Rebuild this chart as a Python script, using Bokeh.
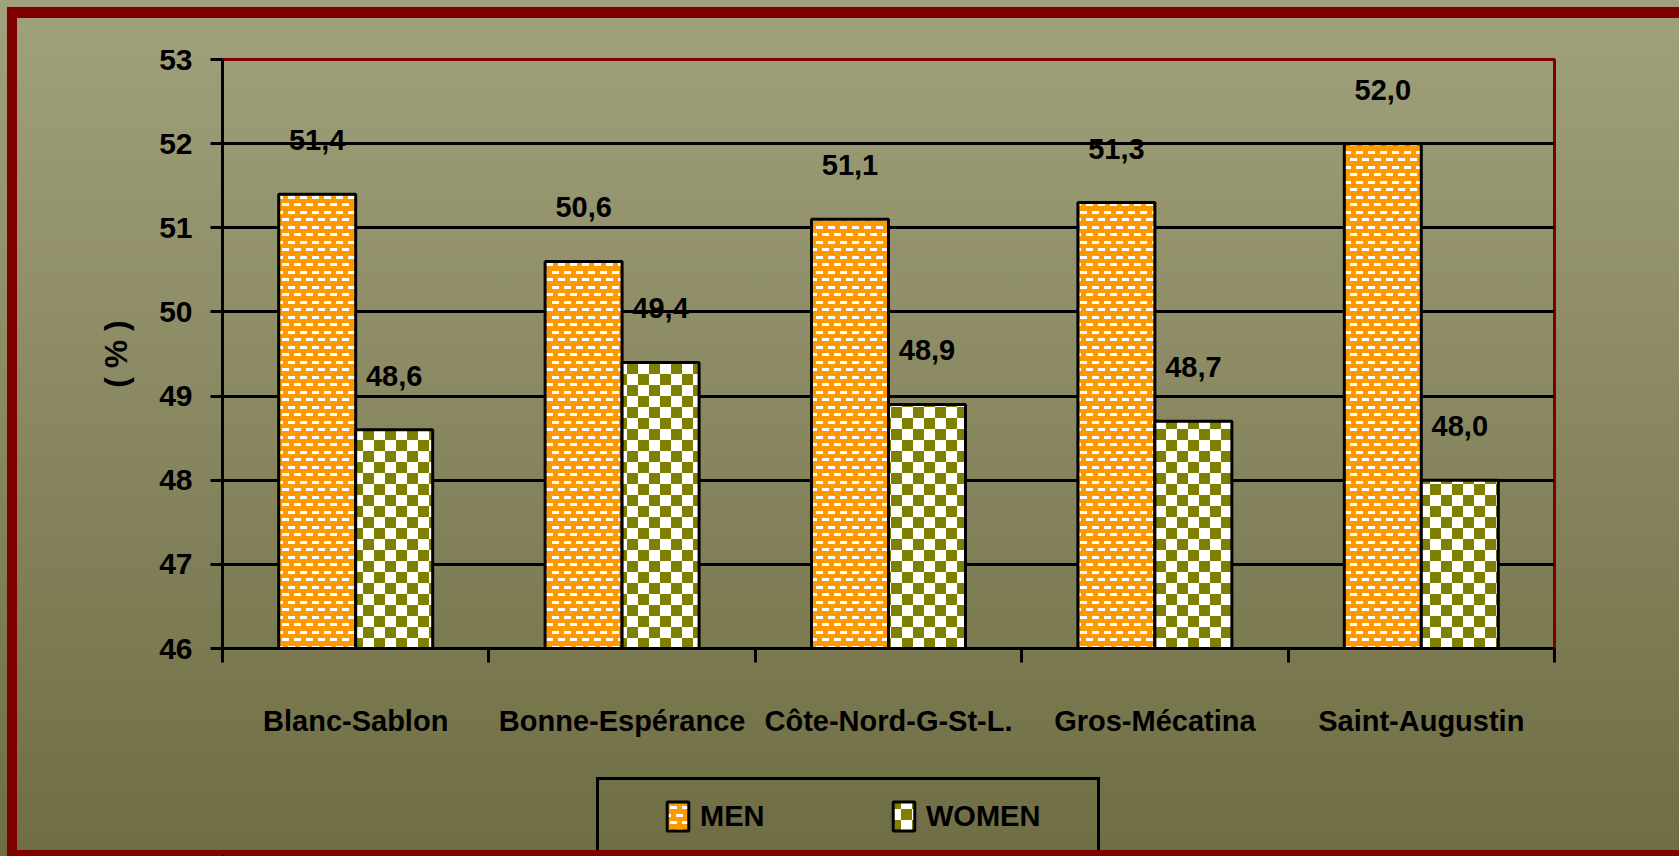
import base64
import struct
import zlib

from bokeh.core.properties import value
from bokeh.embed import file_html
from bokeh.layouts import column
from bokeh.models import (ColumnDataSource, FixedTicker, ImageURLTexture,
                          LabelSet, Legend, LegendItem, Range1d)
from bokeh.plotting import figure
from bokeh.resources import INLINE

# ---------------- data ----------------
categories = ["Blanc-Sablon", "Bonne-Espérance", "Côte-Nord-G-St-L.", "Gros-Mécatina", "Saint-Augustin"]
men = [51.4, 50.6, 51.1, 51.3, 52.0]
women = [48.6, 49.4, 48.9, 48.7, 48.0]
series_names = ["MEN", "WOMEN"]
y_ticks = [46, 47, 48, 49, 50, 51, 52, 53]
y_title = "( % )"

# ---------------- style ----------------
FONT = "Liberation Sans"
ORANGE = (255, 153, 0)
OLIVE = (128, 128, 0)
WHITE = (255, 255, 255)
DARKRED = "#800000"
W, H = 1679, 856
H_MAIN = 760                                   # chart part; the legend strip fills the rest
FR_L, FR_T, FR_R, FR_B = 222, 59, 1554, 648   # frame edges in canvas pixels


def png_data_url(pixels):
    h = len(pixels)
    w = len(pixels[0])
    raw = b"".join(b"\x00" + bytes(c for px in row for c in (px + (255,))) for row in pixels)

    def chunk(tag, data):
        return struct.pack(">I", len(data)) + tag + data + struct.pack(">I", zlib.crc32(tag + data) & 0xFFFFFFFF)

    ihdr = struct.pack(">IIBBBBB", w, h, 8, 6, 0, 0, 0)
    png = b"\x89PNG\r\n\x1a\n" + chunk(b"IHDR", ihdr) + chunk(b"IDAT", zlib.compress(raw)) + chunk(b"IEND", b"")
    return "data:image/png;base64," + base64.b64encode(png).decode()


# brick-like dash texture (orange) and checker texture (olive)
men_tile = []
for yy in range(15):
    row = []
    for xx in range(12):
        c = ORANGE
        if 1 <= yy <= 3 and xx < 7:
            c = WHITE
        if 8 <= yy <= 10 and (xx >= 6 or xx == 0):
            c = WHITE
        row.append(c)
    men_tile.append(row)

women_tile = []
for yy in range(22):
    row = []
    for xx in range(22):
        row.append(OLIVE if ((xx // 11) + (yy // 11)) % 2 == 0 else WHITE)
    women_tile.append(row)

men_style = dict(fill_color="#FF9900", line_color="black", line_width=3,
                 hatch_pattern=value("men_tex"),
                 hatch_extra={"men_tex": ImageURLTexture(url=png_data_url(men_tile), repetition="repeat")})
women_style = dict(fill_color="#808000", line_color="black", line_width=3,
                   hatch_pattern=value("women_tex"),
                   hatch_extra={"women_tex": ImageURLTexture(url=png_data_url(women_tile), repetition="repeat")})

positions = list(range(len(categories)))
BW = 0.289
src = ColumnDataSource(dict(
    xm=[p_ - BW / 2 for p_ in positions],
    xw=[p_ + BW / 2 for p_ in positions],
    men=men,
    women=women,
    men_txt=[f"{v:.1f}".replace(".", ",") for v in men],
    women_txt=[f"{v:.1f}".replace(".", ",") for v in women],
))

p = figure(width=W, height=H_MAIN,
           x_range=Range1d(-0.5, len(categories) - 0.5),
           y_range=Range1d(y_ticks[0], y_ticks[-1]),
           output_backend="svg", toolbar_location=None,
           min_border_left=FR_L, min_border_right=W - FR_R,
           min_border_top=FR_T, min_border_bottom=H_MAIN - FR_B)
p.background_fill_color = None
p.border_fill_color = None
p.outline_line_color = DARKRED
p.outline_line_width = 3

# grid
p.xgrid.grid_line_color = None
p.ygrid.ticker = FixedTicker(ticks=y_ticks[:-1])
p.ygrid.grid_line_color = "black"
p.ygrid.grid_line_width = 3

# y axis
p.yaxis.ticker = FixedTicker(ticks=y_ticks)
p.yaxis.axis_line_color = "black"
p.yaxis.axis_line_width = 3
p.yaxis.major_tick_line_width = 3
p.yaxis.major_tick_out = 12
p.yaxis.major_tick_in = 0
p.yaxis.minor_tick_line_color = None
p.yaxis.major_label_text_font = FONT
p.yaxis.major_label_text_font_style = "bold"
p.yaxis.major_label_text_font_size = "30px"
p.yaxis.major_label_text_color = "black"
p.yaxis.major_label_standoff = 18
p.yaxis.axis_label = y_title
p.yaxis.axis_label_text_font = FONT
p.yaxis.axis_label_text_font_style = "bold"
p.yaxis.axis_label_text_font_size = "32px"
p.yaxis.axis_label_text_color = "black"
p.yaxis.axis_label_standoff = 22

# x axis (ticks at category boundaries, labels at centres)
p.xaxis.ticker = FixedTicker(ticks=positions, minor_ticks=[i - 0.5 for i in range(len(categories) + 1)])
p.xaxis.major_label_overrides = {i: c for i, c in zip(positions, categories)}
p.xaxis.axis_line_color = "black"
p.xaxis.axis_line_width = 3
p.xaxis.major_tick_line_color = None
p.xaxis.major_tick_out = 0
p.xaxis.major_tick_in = 0
p.xaxis.minor_tick_line_color = "black"
p.xaxis.minor_tick_line_width = 3
p.xaxis.minor_tick_out = 14
p.xaxis.minor_tick_in = 0
p.xaxis.major_label_text_font = FONT
p.xaxis.major_label_text_font_style = "bold"
p.xaxis.major_label_text_font_size = "29px"
p.xaxis.major_label_text_color = "black"
p.xaxis.major_label_standoff = 42

# bars
p.vbar(x="xm", top="men", bottom=y_ticks[0], width=BW, source=src, **men_style)
p.vbar(x="xw", top="women", bottom=y_ticks[0], width=BW, source=src, **women_style)

# value labels
for xcol, ycol, tcol in (("xm", "men", "men_txt"), ("xw", "women", "women_txt")):
    p.add_layout(LabelSet(x=xcol, y=ycol, text=tcol, source=src, y_offset=54,
                          text_align="center", text_baseline="middle",
                          text_font=value(FONT), text_font_style="bold",
                          text_font_size="29px", text_color="black"))

# ---------------- legend strip (bottom of the page) ----------------
# The same series are drawn again in a strip whose ranges lie far away from the data,
# so nothing shows there; they only feed the legend.
H_LEG = H - H_MAIN
pl = figure(width=W, height=H_LEG, x_range=Range1d(1000, 1001), y_range=Range1d(1000, 1001),
            x_axis_location=None, y_axis_location=None,
            output_backend="svg", toolbar_location=None,
            min_border_left=FR_L, min_border_right=W - FR_R, min_border_top=0, min_border_bottom=0)
pl.grid.visible = False
pl.outline_line_color = None
pl.background_fill_color = None
pl.border_fill_color = None
lm = pl.vbar(x="xm", top="men", bottom=y_ticks[0], width=BW, source=src, **men_style)
lw = pl.vbar(x="xw", top="women", bottom=y_ticks[0], width=BW, source=src, **women_style)

LEG_TOP = 798 - H_MAIN      # top of the legend items inside the strip
legend = Legend(items=[LegendItem(label=series_names[0], renderers=[lm]),
                       LegendItem(label=series_names[1], renderers=[lw])],
                orientation="horizontal", location=(664 - FR_L, H_LEG - LEG_TOP - 36),
                glyph_width=27, glyph_height=36, label_height=36, label_standoff=9,
                label_width=186, spacing=4, padding=0, margin=0,
                border_line_color=None, background_fill_color=None, background_fill_alpha=0,
                label_text_font=FONT, label_text_font_style="bold",
                label_text_font_size="29px", label_text_color="black")
pl.add_layout(legend, "center")

# page background: vertical gradient, dark-red outer frame (cropped at right/bottom
# as in the original) and the black legend box
red = "linear-gradient(#800000, #800000)"
blk = "linear-gradient(#000000, #000000)"
page = column(p, pl, spacing=0, styles={"background": ", ".join([
    f"{red} 7px 7px / 10px 849px no-repeat",
    f"{red} 7px 7px / 1672px 11px no-repeat",
    f"{red} 7px 850px / 1672px 6px no-repeat",
    f"{blk} 596px 777px / 3px 79px no-repeat",
    f"{blk} 596px 777px / 504px 3px no-repeat",
    f"{blk} 1097px 777px / 3px 79px no-repeat",
    "linear-gradient(to bottom, #a1a17d 0%, #6f6d43 100%)",
])})

open("out.html", "w").write(file_html(page, INLINE))
